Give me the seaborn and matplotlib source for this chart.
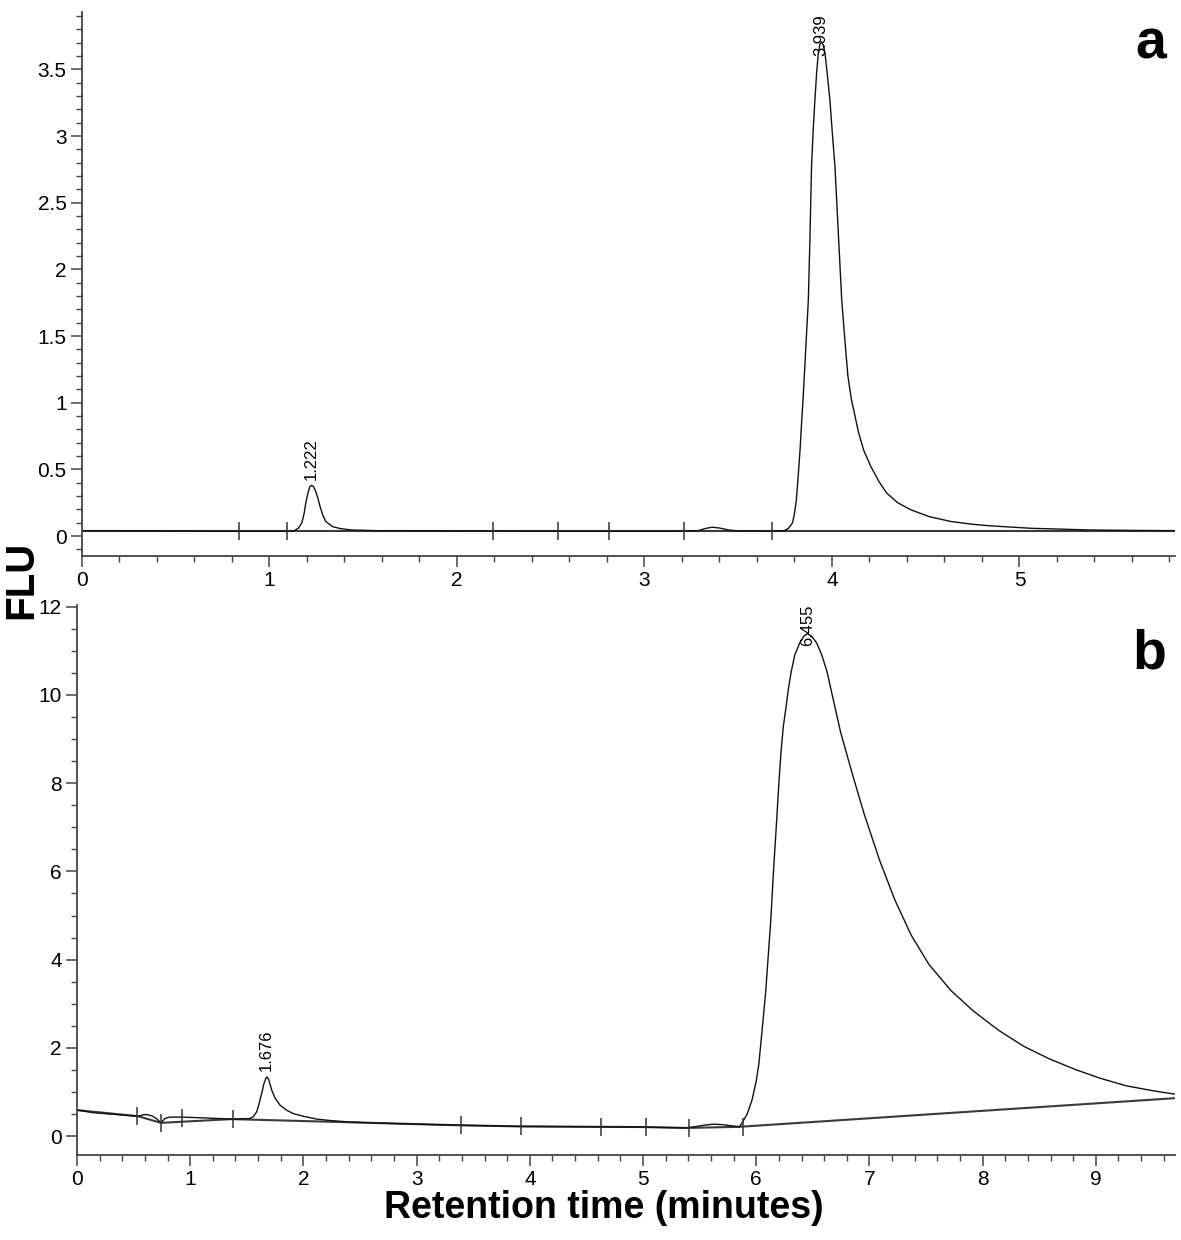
import numpy as np
import pandas as pd
import matplotlib.pyplot as plt
import seaborn as sns
from matplotlib.ticker import MultipleLocator, FuncFormatter

# Chromatogram a (retention time in minutes, FLU)
time_a = [0.00, 0.50, 0.83, 1.10, 1.133, 1.155, 1.173, 1.185, 1.194, 1.205, 1.215, 1.224,
          1.235, 1.245, 1.255, 1.27, 1.286, 1.30, 1.337, 1.38, 1.44, 1.58, 2.0, 2.5, 2.8,
          3.2, 3.285, 3.33, 3.36, 3.40, 3.45, 3.50, 3.70, 3.745, 3.77, 3.79, 3.80, 3.81,
          3.82, 3.83, 3.838, 3.846, 3.86, 3.874, 3.882, 3.891, 3.90, 3.909, 3.918, 3.927,
          3.936, 3.945, 3.954, 3.963, 3.976, 3.989, 4.002, 4.016, 4.034, 4.052, 4.07,
          4.085, 4.103, 4.141, 4.17, 4.206, 4.25, 4.291, 4.35, 4.42, 4.52, 4.634, 4.75,
          4.848, 5.062, 5.383, 5.60, 5.83]
flu_a = [0.040, 0.038, 0.036, 0.037, 0.040, 0.06, 0.10, 0.17, 0.25, 0.32, 0.37, 0.38,
         0.37, 0.34, 0.30, 0.22, 0.15, 0.11, 0.07, 0.055, 0.045, 0.040, 0.038, 0.037, 0.036,
         0.037, 0.040, 0.058, 0.066, 0.060, 0.045, 0.038, 0.037, 0.040, 0.06, 0.10, 0.17, 0.27,
         0.45, 0.65, 0.85, 1.03, 1.40, 1.77, 2.20, 2.77, 3.05, 3.27, 3.47, 3.62,
         3.69, 3.705, 3.68, 3.62, 3.45, 3.27, 3.02, 2.77, 2.27, 1.77, 1.45,
         1.20, 1.03, 0.78, 0.64, 0.525, 0.41, 0.323, 0.25, 0.197, 0.145, 0.109, 0.088,
         0.076, 0.058, 0.045, 0.042, 0.040]
base_time_a = [0.0, 5.83]
base_flu_a = [0.038, 0.038]
mark_time_a = [0.837, 1.094, 2.19, 2.537, 2.81, 3.21, 3.68]
mark_flu_a = [0.038, 0.038, 0.038, 0.038, 0.038, 0.038, 0.038]
peaks_a = [1.222, 3.939]

# Chromatogram b
time_b = [0.00, 0.144, 0.54, 0.58, 0.617, 0.66, 0.70, 0.742, 0.777, 0.82, 0.93, 1.15,
          1.367, 1.45, 1.53, 1.56, 1.587, 1.61, 1.632, 1.65, 1.667, 1.676, 1.69, 1.705,
          1.72, 1.75, 1.794, 1.85, 1.91, 2.0, 2.117, 2.25, 2.41, 2.6, 2.85, 3.0, 3.4,
          3.9, 4.6, 5.0, 5.38, 5.45, 5.55, 5.62, 5.70, 5.82, 5.85, 5.873, 5.92, 5.963,
          6.00, 6.023, 6.05, 6.083, 6.105, 6.128, 6.15, 6.174, 6.20, 6.22, 6.24, 6.263,
          6.285, 6.309, 6.34, 6.384, 6.42, 6.45, 6.49, 6.534, 6.58, 6.625, 6.68, 6.745,
          6.85, 6.955, 7.09, 7.225, 7.37, 7.526, 7.72, 7.916, 8.14, 8.367, 8.59, 8.818,
          9.04, 9.268, 9.50, 9.70]
flu_b = [0.59, 0.53, 0.45, 0.48, 0.49, 0.46, 0.40, 0.30, 0.40, 0.43, 0.43, 0.41,
         0.385, 0.39, 0.40, 0.45, 0.55, 0.75, 0.97, 1.18, 1.30, 1.34, 1.30, 1.18,
         1.04, 0.86, 0.70, 0.59, 0.51, 0.45, 0.385, 0.35, 0.32, 0.30, 0.28, 0.27, 0.245,
         0.22, 0.21, 0.205, 0.185, 0.21, 0.25, 0.27, 0.26, 0.22, 0.21, 0.29, 0.50, 0.82,
         1.25, 1.63, 2.35, 3.25, 4.05, 4.87, 5.90, 6.89, 8.00, 8.75, 9.30, 9.72,
         10.15, 10.53, 10.90, 11.18, 11.33, 11.39, 11.33, 11.18, 10.90, 10.53, 9.90, 9.16,
         8.20, 7.29, 6.25, 5.35, 4.55, 3.89, 3.30, 2.84, 2.40, 2.03, 1.75, 1.51,
         1.31, 1.14, 1.03, 0.95]
base_time_b = [0.0, 0.54, 0.742, 1.367, 3.39, 3.9, 4.6, 5.0, 5.38, 5.85, 9.70]
base_flu_b = [0.59, 0.45, 0.30, 0.385, 0.245, 0.22, 0.21, 0.205, 0.185, 0.21, 0.86]
mark_time_b = [0.53, 0.74, 0.93, 1.376, 3.39, 3.92, 4.63, 5.03, 5.41, 5.88]
mark_flu_b = [0.45, 0.30, 0.41, 0.385, 0.245, 0.22, 0.21, 0.205, 0.185, 0.21]
peaks_b = [1.676, 6.455]

sns.set_theme(style='ticks')
plt.rcParams['font.family'] = ['Liberation Sans', 'DejaVu Sans']
plt.rcParams['text.color'] = 'black'

fig = plt.figure(figsize=(11.81, 12.40), dpi=100)
ax_a = fig.add_axes([0.0694, 0.5516, 0.9256, 0.4387])
ax_b = fig.add_axes([0.0652, 0.0685, 0.9298, 0.4436])


def fmt(v, pos):
    return '{:g}'.format(round(v, 3))


def draw(ax, t, s, bt, bs, mt, ms, peaks, letter, xlim, ylim, ymaj, ymin):
    sns.lineplot(x=bt, y=bs, ax=ax, color='#3a3a3a', lw=1.5, estimator=None, sort=False)
    sns.lineplot(x=t, y=s, ax=ax, color='#111111', lw=1.0, estimator=None, sort=False)
    ax.plot(mt, ms, ls='none', marker='|', ms=13, mew=1.1, color='#333333')
    top = max(s)
    for p in peaks:
        y = np.interp(p, t, s)
        off = -9 if y > 0.9 * top else 4
        ax.annotate('{:.3f}'.format(p), (p, y), xytext=(0, off), textcoords='offset points',
                    rotation=90, ha='center', va='bottom', fontsize=12, color='black')
    ax.set_xlim(*xlim)
    ax.set_ylim(*ylim)
    ax.xaxis.set_major_locator(MultipleLocator(1))
    ax.xaxis.set_minor_locator(MultipleLocator(0.2))
    ax.yaxis.set_major_locator(MultipleLocator(ymaj))
    ax.yaxis.set_minor_locator(MultipleLocator(ymin))
    ax.xaxis.set_major_formatter(FuncFormatter(fmt))
    ax.yaxis.set_major_formatter(FuncFormatter(fmt))
    ax.tick_params(which='major', length=8, width=1.1, color='#444444', labelsize=15,
                   labelcolor='black', pad=3)
    ax.tick_params(which='minor', length=4, width=1.0, color='#444444')
    sns.despine(ax=ax)
    for sp in ['left', 'bottom']:
        ax.spines[sp].set_color('#444444')
        ax.spines[sp].set_linewidth(1.3)
    ax.set_xlabel('')
    ax.set_ylabel('')
    ax.set_facecolor('white')
    ax.text(0.992, 0.915 if letter == 'a' else 0.885, letter, transform=ax.transAxes,
            ha='right', va='baseline', fontsize=40, fontweight='bold', color='black')


draw(ax_a, time_a, flu_a, base_time_a, base_flu_a, mark_time_a, mark_flu_a, peaks_a, 'a',
     (0, 5.83), (-0.15, 3.93), 0.5, 0.1)
draw(ax_b, time_b, flu_b, base_time_b, base_flu_b, mark_time_b, mark_flu_b, peaks_b, 'b',
     (0, 9.70), (-0.43, 12.04), 2, 0.5)

fig.text(0.018, 0.532, 'FLU', rotation=90, fontsize=29, fontweight='bold',
         ha='center', va='center', color='black')
fig.text(0.511, 0.026, 'Retention time (minutes)', fontsize=27, fontweight='bold',
         ha='center', va='center', color='black')

fig.savefig('out.png', dpi=100, facecolor='white')
